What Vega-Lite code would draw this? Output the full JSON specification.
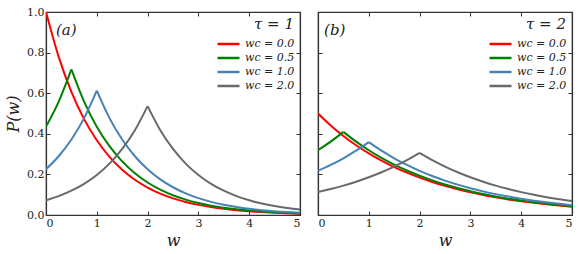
{
"$schema": "https://vega.github.io/schema/vega-lite/v6.json",
"background": "white",
"padding": {"left": 4, "top": 5, "right": 5, "bottom": 5},
"datasets": {"d": [
{"t":1,"c":"0.0","s":1,"w":0,"p":1},{"t":1,"c":"0.0","s":1,"w":0.25,"p":0.7788},{"t":1,"c":"0.0","s":1,"w":0.5,"p":0.6065},{"t":1,"c":"0.0","s":1,"w":0.75,"p":0.4724},{"t":1,"c":"0.0","s":1,"w":1,"p":0.3679},{"t":1,"c":"0.0","s":1,"w":1.25,"p":0.2865},{"t":1,"c":"0.0","s":1,"w":1.5,"p":0.2231},{"t":1,"c":"0.0","s":1,"w":1.75,"p":0.1738},{"t":1,"c":"0.0","s":1,"w":2,"p":0.1353},{"t":1,"c":"0.0","s":1,"w":2.25,"p":0.1054},{"t":1,"c":"0.0","s":1,"w":2.5,"p":0.0821},{"t":1,"c":"0.0","s":1,"w":2.75,"p":0.0639},{"t":1,"c":"0.0","s":1,"w":3,"p":0.0498},{"t":1,"c":"0.0","s":1,"w":3.25,"p":0.0388},{"t":1,"c":"0.0","s":1,"w":3.5,"p":0.0302},{"t":1,"c":"0.0","s":1,"w":3.75,"p":0.0235},{"t":1,"c":"0.0","s":1,"w":4,"p":0.0183},{"t":1,"c":"0.0","s":1,"w":4.25,"p":0.0143},{"t":1,"c":"0.0","s":1,"w":4.5,"p":0.0111},{"t":1,"c":"0.0","s":1,"w":4.75,"p":0.0087},{"t":1,"c":"0.0","s":1,"w":5,"p":0.0067},
{"t":1,"c":"0.5","s":0,"w":0,"p":0.4353},{"t":1,"c":"0.5","s":0,"w":0.25,"p":0.5589},{"t":1,"c":"0.5","s":0,"w":0.5,"p":0.7176},{"t":1,"c":"0.5","s":1,"w":0.5,"p":0.7176},{"t":1,"c":"0.5","s":1,"w":0.75,"p":0.5589},{"t":1,"c":"0.5","s":1,"w":1,"p":0.4353},{"t":1,"c":"0.5","s":1,"w":1.25,"p":0.3390},{"t":1,"c":"0.5","s":1,"w":1.5,"p":0.2640},{"t":1,"c":"0.5","s":1,"w":1.75,"p":0.2056},{"t":1,"c":"0.5","s":1,"w":2,"p":0.1601},{"t":1,"c":"0.5","s":1,"w":2.25,"p":0.1247},{"t":1,"c":"0.5","s":1,"w":2.5,"p":0.0971},{"t":1,"c":"0.5","s":1,"w":2.75,"p":0.0756},{"t":1,"c":"0.5","s":1,"w":3,"p":0.0589},{"t":1,"c":"0.5","s":1,"w":3.25,"p":0.0459},{"t":1,"c":"0.5","s":1,"w":3.5,"p":0.0357},{"t":1,"c":"0.5","s":1,"w":3.75,"p":0.0278},{"t":1,"c":"0.5","s":1,"w":4,"p":0.0217},{"t":1,"c":"0.5","s":1,"w":4.25,"p":0.0169},{"t":1,"c":"0.5","s":1,"w":4.5,"p":0.0131},{"t":1,"c":"0.5","s":1,"w":4.75,"p":0.0102},{"t":1,"c":"0.5","s":1,"w":5,"p":0.0080},
{"t":1,"c":"1.0","s":0,"w":0,"p":0.2254},{"t":1,"c":"1.0","s":0,"w":0.25,"p":0.2894},{"t":1,"c":"1.0","s":0,"w":0.5,"p":0.3716},{"t":1,"c":"1.0","s":0,"w":0.75,"p":0.4772},{"t":1,"c":"1.0","s":0,"w":1,"p":0.6127},{"t":1,"c":"1.0","s":1,"w":1,"p":0.6127},{"t":1,"c":"1.0","s":1,"w":1.25,"p":0.4772},{"t":1,"c":"1.0","s":1,"w":1.5,"p":0.3716},{"t":1,"c":"1.0","s":1,"w":1.75,"p":0.2894},{"t":1,"c":"1.0","s":1,"w":2,"p":0.2254},{"t":1,"c":"1.0","s":1,"w":2.25,"p":0.1755},{"t":1,"c":"1.0","s":1,"w":2.5,"p":0.1367},{"t":1,"c":"1.0","s":1,"w":2.75,"p":0.1065},{"t":1,"c":"1.0","s":1,"w":3,"p":0.0829},{"t":1,"c":"1.0","s":1,"w":3.25,"p":0.0646},{"t":1,"c":"1.0","s":1,"w":3.5,"p":0.0503},{"t":1,"c":"1.0","s":1,"w":3.75,"p":0.0392},{"t":1,"c":"1.0","s":1,"w":4,"p":0.0305},{"t":1,"c":"1.0","s":1,"w":4.25,"p":0.0238},{"t":1,"c":"1.0","s":1,"w":4.5,"p":0.0185},{"t":1,"c":"1.0","s":1,"w":4.75,"p":0.0144},{"t":1,"c":"1.0","s":1,"w":5,"p":0.0112},
{"t":1,"c":"2.0","s":0,"w":0,"p":0.0726},{"t":1,"c":"2.0","s":0,"w":0.25,"p":0.0932},{"t":1,"c":"2.0","s":0,"w":0.5,"p":0.1197},{"t":1,"c":"2.0","s":0,"w":0.75,"p":0.1537},{"t":1,"c":"2.0","s":0,"w":1,"p":0.1973},{"t":1,"c":"2.0","s":0,"w":1.25,"p":0.2533},{"t":1,"c":"2.0","s":0,"w":1.5,"p":0.3253},{"t":1,"c":"2.0","s":0,"w":1.75,"p":0.4177},{"t":1,"c":"2.0","s":0,"w":2,"p":0.5363},{"t":1,"c":"2.0","s":1,"w":2,"p":0.5363},{"t":1,"c":"2.0","s":1,"w":2.25,"p":0.4177},{"t":1,"c":"2.0","s":1,"w":2.5,"p":0.3253},{"t":1,"c":"2.0","s":1,"w":2.75,"p":0.2533},{"t":1,"c":"2.0","s":1,"w":3,"p":0.1973},{"t":1,"c":"2.0","s":1,"w":3.25,"p":0.1537},{"t":1,"c":"2.0","s":1,"w":3.5,"p":0.1197},{"t":1,"c":"2.0","s":1,"w":3.75,"p":0.0932},{"t":1,"c":"2.0","s":1,"w":4,"p":0.0726},{"t":1,"c":"2.0","s":1,"w":4.25,"p":0.0565},{"t":1,"c":"2.0","s":1,"w":4.5,"p":0.0440},{"t":1,"c":"2.0","s":1,"w":4.75,"p":0.0343},{"t":1,"c":"2.0","s":1,"w":5,"p":0.0267},
{"t":2,"c":"0.0","s":1,"w":0,"p":0.5},{"t":2,"c":"0.0","s":1,"w":0.25,"p":0.4413},{"t":2,"c":"0.0","s":1,"w":0.5,"p":0.3894},{"t":2,"c":"0.0","s":1,"w":0.75,"p":0.3436},{"t":2,"c":"0.0","s":1,"w":1,"p":0.3033},{"t":2,"c":"0.0","s":1,"w":1.25,"p":0.2676},{"t":2,"c":"0.0","s":1,"w":1.5,"p":0.2362},{"t":2,"c":"0.0","s":1,"w":1.75,"p":0.2084},{"t":2,"c":"0.0","s":1,"w":2,"p":0.1839},{"t":2,"c":"0.0","s":1,"w":2.25,"p":0.1623},{"t":2,"c":"0.0","s":1,"w":2.5,"p":0.1433},{"t":2,"c":"0.0","s":1,"w":2.75,"p":0.1264},{"t":2,"c":"0.0","s":1,"w":3,"p":0.1116},{"t":2,"c":"0.0","s":1,"w":3.25,"p":0.0985},{"t":2,"c":"0.0","s":1,"w":3.5,"p":0.0869},{"t":2,"c":"0.0","s":1,"w":3.75,"p":0.0767},{"t":2,"c":"0.0","s":1,"w":4,"p":0.0677},{"t":2,"c":"0.0","s":1,"w":4.25,"p":0.0597},{"t":2,"c":"0.0","s":1,"w":4.5,"p":0.0527},{"t":2,"c":"0.0","s":1,"w":4.75,"p":0.0465},{"t":2,"c":"0.0","s":1,"w":5,"p":0.0410},
{"t":2,"c":"0.5","s":0,"w":0,"p":0.3189},{"t":2,"c":"0.5","s":0,"w":0.25,"p":0.3613},{"t":2,"c":"0.5","s":0,"w":0.5,"p":0.4094},{"t":2,"c":"0.5","s":1,"w":0.5,"p":0.4094},{"t":2,"c":"0.5","s":1,"w":0.75,"p":0.3613},{"t":2,"c":"0.5","s":1,"w":1,"p":0.3189},{"t":2,"c":"0.5","s":1,"w":1.25,"p":0.2814},{"t":2,"c":"0.5","s":1,"w":1.5,"p":0.2483},{"t":2,"c":"0.5","s":1,"w":1.75,"p":0.2192},{"t":2,"c":"0.5","s":1,"w":2,"p":0.1934},{"t":2,"c":"0.5","s":1,"w":2.25,"p":0.1707},{"t":2,"c":"0.5","s":1,"w":2.5,"p":0.1506},{"t":2,"c":"0.5","s":1,"w":2.75,"p":0.1329},{"t":2,"c":"0.5","s":1,"w":3,"p":0.1173},{"t":2,"c":"0.5","s":1,"w":3.25,"p":0.1035},{"t":2,"c":"0.5","s":1,"w":3.5,"p":0.0914},{"t":2,"c":"0.5","s":1,"w":3.75,"p":0.0806},{"t":2,"c":"0.5","s":1,"w":4,"p":0.0712},{"t":2,"c":"0.5","s":1,"w":4.25,"p":0.0628},{"t":2,"c":"0.5","s":1,"w":4.5,"p":0.0554},{"t":2,"c":"0.5","s":1,"w":4.75,"p":0.0489},{"t":2,"c":"0.5","s":1,"w":5,"p":0.0432},
{"t":2,"c":"1.0","s":0,"w":0,"p":0.2176},{"t":2,"c":"1.0","s":0,"w":0.25,"p":0.2466},{"t":2,"c":"1.0","s":0,"w":0.5,"p":0.2795},{"t":2,"c":"1.0","s":0,"w":0.75,"p":0.3167},{"t":2,"c":"1.0","s":0,"w":1,"p":0.3588},{"t":2,"c":"1.0","s":1,"w":1,"p":0.3588},{"t":2,"c":"1.0","s":1,"w":1.25,"p":0.3167},{"t":2,"c":"1.0","s":1,"w":1.5,"p":0.2795},{"t":2,"c":"1.0","s":1,"w":1.75,"p":0.2466},{"t":2,"c":"1.0","s":1,"w":2,"p":0.2176},{"t":2,"c":"1.0","s":1,"w":2.25,"p":0.1921},{"t":2,"c":"1.0","s":1,"w":2.5,"p":0.1695},{"t":2,"c":"1.0","s":1,"w":2.75,"p":0.1496},{"t":2,"c":"1.0","s":1,"w":3,"p":0.1320},{"t":2,"c":"1.0","s":1,"w":3.25,"p":0.1165},{"t":2,"c":"1.0","s":1,"w":3.5,"p":0.1028},{"t":2,"c":"1.0","s":1,"w":3.75,"p":0.0907},{"t":2,"c":"1.0","s":1,"w":4,"p":0.0801},{"t":2,"c":"1.0","s":1,"w":4.25,"p":0.0707},{"t":2,"c":"1.0","s":1,"w":4.5,"p":0.0624},{"t":2,"c":"1.0","s":1,"w":4.75,"p":0.0550},{"t":2,"c":"1.0","s":1,"w":5,"p":0.0486},
{"t":2,"c":"2.0","s":0,"w":0,"p":0.1127},{"t":2,"c":"2.0","s":0,"w":0.25,"p":0.1277},{"t":2,"c":"2.0","s":0,"w":0.5,"p":0.1447},{"t":2,"c":"2.0","s":0,"w":0.75,"p":0.1640},{"t":2,"c":"2.0","s":0,"w":1,"p":0.1858},{"t":2,"c":"2.0","s":0,"w":1.25,"p":0.2106},{"t":2,"c":"2.0","s":0,"w":1.5,"p":0.2386},{"t":2,"c":"2.0","s":0,"w":1.75,"p":0.2704},{"t":2,"c":"2.0","s":0,"w":2,"p":0.3064},{"t":2,"c":"2.0","s":1,"w":2,"p":0.3064},{"t":2,"c":"2.0","s":1,"w":2.25,"p":0.2704},{"t":2,"c":"2.0","s":1,"w":2.5,"p":0.2386},{"t":2,"c":"2.0","s":1,"w":2.75,"p":0.2106},{"t":2,"c":"2.0","s":1,"w":3,"p":0.1858},{"t":2,"c":"2.0","s":1,"w":3.25,"p":0.1640},{"t":2,"c":"2.0","s":1,"w":3.5,"p":0.1447},{"t":2,"c":"2.0","s":1,"w":3.75,"p":0.1277},{"t":2,"c":"2.0","s":1,"w":4,"p":0.1127},{"t":2,"c":"2.0","s":1,"w":4.25,"p":0.0995},{"t":2,"c":"2.0","s":1,"w":4.5,"p":0.0878},{"t":2,"c":"2.0","s":1,"w":4.75,"p":0.0775},{"t":2,"c":"2.0","s":1,"w":5,"p":0.0684}
]},
"config": {
  "font": "DejaVu Serif",
  "view": {"stroke": "#333333", "strokeWidth": 1.2},
  "axis": {"grid": false, "tickSize": -4, "tickWidth": 1, "domainColor": "#333333", "domainWidth": 1.2, "tickColor": "#333333", "labelFont": "DejaVu Serif", "labelFontSize": 11, "labelColor": "#222222", "labelPadding": 6, "titleFont": "DejaVu Serif", "titleFontStyle": "italic", "titleFontWeight": "normal", "titleFontSize": 16, "titleColor": "#222222"},
  "legend": {"orient": "top-right", "offset": 5, "symbolType": "stroke", "symbolSize": 484, "symbolStrokeWidth": 2.5, "clipHeight": 12, "labelFont": "DejaVu Serif", "labelFontStyle": "italic", "labelFontSize": 11, "labelColor": "#222222", "labelOffset": 4, "titleFont": "DejaVu Serif", "titleFontStyle": "italic", "titleFontWeight": "normal", "titleFontSize": 15, "titleColor": "#222222", "titleAnchor": "end", "titleAlign": "right", "titlePadding": 6, "rowPadding": 2, "padding": 0}
},
"spacing": 14,
"resolve": {"legend": {"color": "independent"}},
"hconcat": [
 {
  "width": 254, "height": 203,
  "layer": [
   {"data": {"name": "d"},
    "transform": [{"filter": "datum.t == 1"}],
    "mark": {"type": "line", "strokeWidth": 2, "clip": true, "interpolate": "monotone"},
    "encoding": {
      "x": {"field": "w", "type": "quantitative", "scale": {"domain": [0, 5], "nice": false}, "axis": {"title": "w", "values": [0,1,2,3,4,5], "format": "d", "titlePadding": 4}},
      "y": {"field": "p", "type": "quantitative", "scale": {"domain": [0, 1], "nice": false}, "axis": {"title": "P(w)", "values": [0,0.2,0.4,0.6,0.8,1], "format": ".1f", "titlePadding": 5}},
      "color": {"field": "c", "type": "nominal", "scale": {"domain": ["0.0","0.5","1.0","2.0"], "range": ["#ff0000","#008000","#4682b4","#696969"]}, "legend": {"title": "τ = 1", "labelExpr": "'wc = ' + datum.label"}},
      "detail": {"field": "s", "type": "nominal"},
      "order": {"field": "w", "type": "quantitative"}
    }},
   {"data": {"values": [{}]},
    "mark": {"type": "text", "text": "(a)", "font": "DejaVu Serif", "fontStyle": "italic", "fontSize": 15, "color": "#222222", "align": "center", "baseline": "middle"},
    "encoding": {
      "x": {"datum": 0.4, "type": "quantitative", "axis": {"orient": "top", "labels": false, "title": null, "values": [0,1,2,3,4,5]}},
      "y": {"datum": 0.91, "type": "quantitative", "axis": {"orient": "right", "labels": false, "title": null, "values": [0,0.2,0.4,0.6,0.8,1]}}
    }}
  ],
  "resolve": {"axis": {"x": "independent", "y": "independent"}}
 },
 {
  "width": 254, "height": 203,
  "layer": [
   {"data": {"name": "d"},
    "transform": [{"filter": "datum.t == 2"}],
    "mark": {"type": "line", "strokeWidth": 2, "clip": true, "interpolate": "monotone"},
    "encoding": {
      "x": {"field": "w", "type": "quantitative", "scale": {"domain": [0, 5], "nice": false}, "axis": {"title": "w", "values": [0,1,2,3,4,5], "format": "d", "titlePadding": 4}},
      "y": {"field": "p", "type": "quantitative", "scale": {"domain": [0, 1], "nice": false}, "axis": {"title": null, "labels": false, "values": [0,0.2,0.4,0.6,0.8,1]}},
      "color": {"field": "c", "type": "nominal", "scale": {"domain": ["0.0","0.5","1.0","2.0"], "range": ["#ff0000","#008000","#4682b4","#696969"]}, "legend": {"title": "τ = 2", "labelExpr": "'wc = ' + datum.label"}},
      "detail": {"field": "s", "type": "nominal"},
      "order": {"field": "w", "type": "quantitative"}
    }},
   {"data": {"values": [{}]},
    "mark": {"type": "text", "text": "(b)", "font": "DejaVu Serif", "fontStyle": "italic", "fontSize": 15, "color": "#222222", "align": "center", "baseline": "middle"},
    "encoding": {
      "x": {"datum": 0.33, "type": "quantitative", "axis": {"orient": "top", "labels": false, "title": null, "values": [0,1,2,3,4,5]}},
      "y": {"datum": 0.91, "type": "quantitative", "axis": {"orient": "right", "labels": false, "title": null, "values": [0,0.2,0.4,0.6,0.8,1]}}
    }}
  ],
  "resolve": {"axis": {"x": "independent", "y": "independent"}}
 }
]
}
